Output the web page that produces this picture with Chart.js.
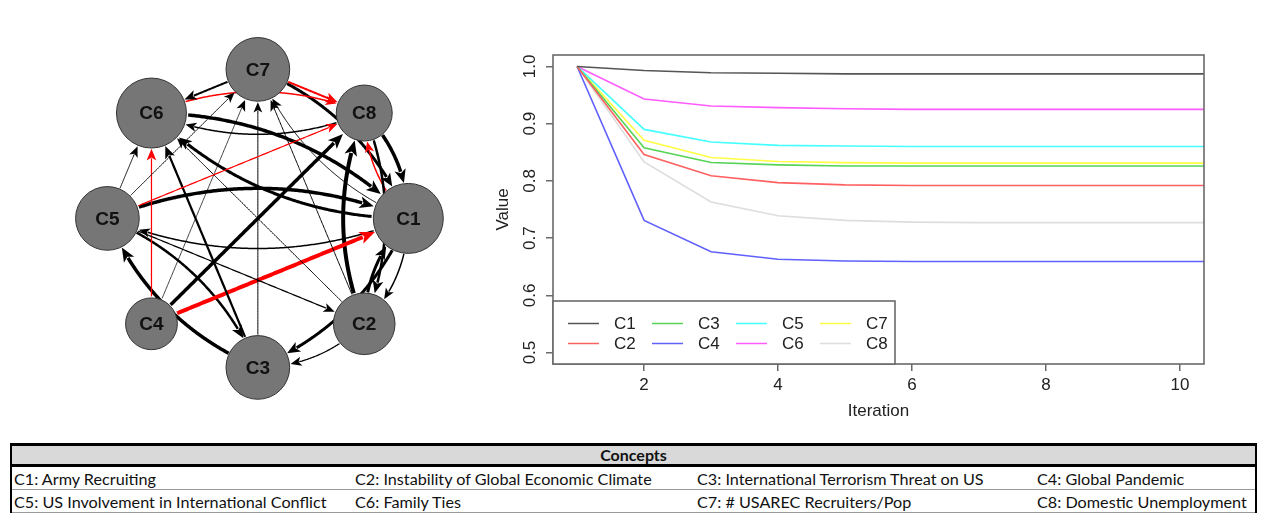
<!DOCTYPE html>
<html>
<head>
<meta charset="utf-8">
<script src="https://cdn.jsdelivr.net/npm/chart.js"></script>
<style>
  body { margin: 0; background: #fff; width: 1262px; height: 515px; overflow: hidden; position: relative; }
  #net { position: absolute; left: 0; top: 0; }
  #lines { position: absolute; left: 480px; top: 30px; }
  #concepts { position: absolute; left: 10px; top: 443px; width: 1247px; }
  #concepts table { border-collapse: collapse; width: 100%; font-family: Lato, sans-serif; font-size: 16.2px; color: #111;
    border-left: 2px solid #000; border-right: 2px solid #000; table-layout: fixed; }
  #concepts th { background: #d9d9d9; border-top: 3px solid #000; border-bottom: 3px solid #000; height: 18px;
    font-weight: bold; font-size: 16px; padding: 0; line-height: 18px; }
  #concepts td { padding: 1px 2px 0 2px; height: 21px; border-bottom: 1px solid #999; white-space: nowrap; overflow: hidden; }
</style>
</head>
<body>
<canvas id="net" width="480" height="436"></canvas>
<canvas id="lines" width="770" height="400"></canvas>
<div id="concepts"></div>
<script>
// ---- line chart data ----
const iterations = [1, 2, 3, 4, 5, 6, 7, 8, 9, 10, 11];
const seriesLabels = ['C1', 'C2', 'C3', 'C4', 'C5', 'C6', 'C7', 'C8'];
const c1 = [1.0, 0.993, 0.989, 0.988, 0.987, 0.987, 0.987, 0.987, 0.987, 0.987, 0.987];
const c2 = [1.0, 0.846, 0.809, 0.797, 0.793, 0.792, 0.792, 0.792, 0.792, 0.792, 0.792];
const c3 = [1.0, 0.858, 0.832, 0.828, 0.826, 0.826, 0.826, 0.826, 0.826, 0.826, 0.826];
const c4 = [1.0, 0.731, 0.676, 0.663, 0.660, 0.659, 0.659, 0.659, 0.659, 0.659, 0.659];
const c5 = [1.0, 0.890, 0.868, 0.862, 0.861, 0.860, 0.860, 0.860, 0.860, 0.860, 0.860];
const c6 = [1.0, 0.943, 0.931, 0.928, 0.926, 0.925, 0.925, 0.925, 0.925, 0.925, 0.925];
const c7 = [1.0, 0.871, 0.841, 0.834, 0.832, 0.831, 0.831, 0.831, 0.831, 0.831, 0.831];
const c8 = [1.0, 0.833, 0.763, 0.739, 0.731, 0.728, 0.727, 0.727, 0.727, 0.727, 0.727];
const xTicks = [2, 4, 6, 8, 10];
const yTicks = [0.5, 0.6, 0.7, 0.8, 0.9, 1.0];

// ---- network data ----
const nodeLabels = ['C1', 'C2', 'C3', 'C4', 'C5', 'C6', 'C7', 'C8'];
const nodeX = [1, 0.7071, 0, -0.7071, -1, -0.7071, 0, 0.7071];
const nodeY = [0, -0.7071, -1, -0.7071, 0, 0.7071, 1, 0.7071];
const nodeWeight = [1.0, 0.88, 0.91, 0.74, 0.91, 1.0, 0.91, 0.8];
const edgeFrom = ['C5','C1','C6','C1','C1','C7','C8','C1','C2','C1','C1','C2','C8','C2','C5','C3','C6','C8',
                  'C4','C4','C4','C4','C3','C3','C2','C2','C5','C5','C5','C5','C7','C7'];
const edgeTo   = ['C1','C5','C1','C6','C7','C1','C1','C8','C1','C2','C3','C8','C2','C3','C3','C5','C8','C6',
                  'C1','C8','C6','C7','C7','C6','C6','C7','C6','C7','C8','C2','C6','C8'];
const edgeWeight = [0.7, 0.3, 0.7, 0.6, 0.2, 0.6, 0.7, -0.3, 0.6, 0.3, 0.6, 0.8, 0.5, 0.25, 0.5, 0.7, -0.3, 0.3,
                    -0.8, 0.7, -0.25, 0.15, 0.2, 0.45, 0.2, 0.2, 0.2, 0.2, -0.25, 0.25, 0.4, -0.4];

const conceptNames = ['Army Recruiting', 'Instability of Global Economic Climate', 'International Terrorism Threat on US',
  'Global Pandemic', 'US Involvement in International Conflict', 'Family Ties', '# USAREC Recruiters/Pop', 'Domestic Unemployment'];

// edges drawn with a bend (style only)
const curvedEdges = new Set(['C5>C1','C1>C5','C6>C1','C1>C6','C1>C7','C7>C1','C8>C1','C1>C8','C2>C1','C1>C2',
  'C1>C3','C2>C8','C8>C2','C2>C3','C5>C3','C3>C5','C6>C8','C8>C6']);

const FONT = '"Liberation Sans", Arial, sans-serif';

// ---------- network (bubble chart + edge plugin) ----------
const edgePlugin = {
  id: 'edges',
  beforeDatasetsDraw(chart) {
    const ctx = chart.ctx, sx = chart.scales.x, sy = chart.scales.y;
    const pos = nodeLabels.map((l, i) => ({ x: sx.getPixelForValue(nodeX[i]), y: sy.getPixelForValue(nodeY[i]), r: 35 * nodeWeight[i] + 0.5 }));
    ctx.save();
    edgeFrom.forEach((f, k) => {
      const a = pos[nodeLabels.indexOf(f)], b = pos[nodeLabels.indexOf(edgeTo[k])];
      const w = Math.abs(edgeWeight[k]) * 5;
      const color = edgeWeight[k] < 0 ? '#ff0000' : '#000';
      const curve = curvedEdges.has(f + '>' + edgeTo[k]) ? 0.2 : 0;
      const dx = b.x - a.x, dy = b.y - a.y;
      const cx = (a.x + b.x) / 2 + dy * curve, cy = (a.y + b.y) / 2 - dx * curve;
      const bez = t => ({ x: (1 - t) * (1 - t) * a.x + 2 * (1 - t) * t * cx + t * t * b.x,
                          y: (1 - t) * (1 - t) * a.y + 2 * (1 - t) * t * cy + t * t * b.y });
      const N = 200;
      let t0 = 0, t1 = 1;
      for (let i = 0; i <= N; i++) { const p = bez(i / N); if (Math.hypot(p.x - a.x, p.y - a.y) >= a.r) { t0 = i / N; break; } }
      for (let i = N; i >= 0; i--) { const p = bez(i / N); if (Math.hypot(p.x - b.x, p.y - b.y) >= b.r) { t1 = i / N; break; } }
      const tip = bez(t1);
      const L = 9 + w * 1.3, H = L * 0.42;
      let tb = t1;
      for (let i = Math.round(t1 * N); i >= 0; i--) { const p = bez(i / N); if (Math.hypot(p.x - tip.x, p.y - tip.y) >= L) { tb = i / N; break; } }
      const base = bez(tb);
      const ux = (tip.x - base.x) / L, uy = (tip.y - base.y) / L;
      ctx.strokeStyle = color; ctx.fillStyle = color; ctx.lineWidth = w;
      ctx.beginPath();
      const p0 = bez(t0); ctx.moveTo(p0.x, p0.y);
      for (let t = t0; t <= tb; t += 1 / N) { const p = bez(t); ctx.lineTo(p.x, p.y); }
      ctx.lineTo(base.x + ux * 2, base.y + uy * 2);
      ctx.stroke();
      ctx.beginPath();
      ctx.moveTo(tip.x, tip.y);
      ctx.lineTo(base.x - uy * H, base.y + ux * H);
      ctx.lineTo(base.x + ux * L * 0.25, base.y + uy * L * 0.25);
      ctx.lineTo(base.x + uy * H, base.y - ux * H);
      ctx.closePath();
      ctx.fill();
    });
    ctx.restore();
  },
  afterDatasetsDraw(chart) {
    const ctx = chart.ctx, sx = chart.scales.x, sy = chart.scales.y;
    ctx.save();
    ctx.font = 'bold 19px ' + FONT;
    ctx.fillStyle = '#111';
    ctx.textAlign = 'center';
    ctx.textBaseline = 'middle';
    nodeLabels.forEach((l, i) => ctx.fillText(l, sx.getPixelForValue(nodeX[i]), sy.getPixelForValue(nodeY[i]) + 1));
    ctx.restore();
  }
};

new Chart(document.getElementById('net'), {
  type: 'bubble',
  data: {
    datasets: [{
      data: nodeLabels.map((l, i) => ({ x: nodeX[i], y: nodeY[i], r: 35 * nodeWeight[i] })),
      backgroundColor: '#767676',
      borderColor: '#333',
      borderWidth: 1,
      clip: false
    }]
  },
  options: {
    responsive: false,
    animation: false,
    events: [],
    layout: { padding: 0 },
    plugins: { legend: { display: false }, tooltip: { enabled: false } },
    scales: {
      x: { type: 'linear', display: false, min: -261 / 177, max: (480 - 261) / 177 },
      y: { type: 'linear', display: false, min: -(436 - 218.5) / 178.5, max: 218.5 / 178.5 }
    }
  },
  plugins: [edgePlugin]
});

// ---------- line chart ----------
const seriesValues = [c1, c2, c3, c4, c5, c6, c7, c8];
const seriesColors = ['#555555', '#ff6060', '#55d455', '#6060ff', '#44ffff', '#ff5cff', '#ffff44', '#dddddd'];

const boxPlugin = {
  id: 'rbox',
  afterDraw(chart) {
    const ctx = chart.ctx, a = chart.chartArea, sy = chart.scales.y;
    ctx.save();
    ctx.strokeStyle = '#6a6a6a';
    ctx.lineWidth = 1.6;
    ctx.strokeRect(a.left, a.top, a.right - a.left, a.bottom - a.top);
    // rotated y tick labels (R style)
    ctx.font = '17px ' + FONT;
    ctx.fillStyle = '#222';
    ctx.textAlign = 'center';
    ctx.textBaseline = 'middle';
    yTicks.forEach(v => {
      ctx.save();
      ctx.translate(a.left - 23, sy.getPixelForValue(v));
      ctx.rotate(-Math.PI / 2);
      ctx.fillText(v.toFixed(1), 0, 0);
      ctx.restore();
    });
    // legend inside plot, bottom-left, filled column-wise
    const lx = a.left, lw = 342, lh = 63, ly = a.bottom - lh;
    ctx.fillStyle = '#fff';
    ctx.fillRect(lx, ly, lw, lh);
    ctx.strokeRect(lx, ly, lw, lh);
    ctx.textAlign = 'left';
    chart.data.datasets.forEach((ds, i) => {
      const col = Math.floor(i / 2), row = i % 2;
      const x = lx + 15 + col * 84, y = ly + 22.5 + row * 20;
      ctx.strokeStyle = ds.borderColor;
      ctx.lineWidth = 1.5;
      ctx.beginPath(); ctx.moveTo(x, y); ctx.lineTo(x + 31, y); ctx.stroke();
      ctx.fillStyle = '#222';
      ctx.fillText(ds.label, x + 46, y + 1);
    });
    ctx.restore();
  }
};

new Chart(document.getElementById('lines'), {
  type: 'line',
  data: {
    datasets: seriesLabels.map((l, i) => ({
      label: l,
      data: iterations.map((it, j) => ({ x: it, y: seriesValues[i][j] })),
      borderColor: seriesColors[i],
      borderWidth: 1.6,
      pointRadius: 0,
      fill: false,
      tension: 0
    }))
  },
  options: {
    responsive: false,
    animation: false,
    events: [],
    layout: { padding: { left: 0, top: 25, right: 46, bottom: 0 } },
    plugins: { legend: { display: false }, tooltip: { enabled: false } },
    scales: {
      x: {
        type: 'linear', min: 0.64, max: 10.36,
        afterBuildTicks: s => { s.ticks = xTicks.map(v => ({ value: v })); },
        afterFit: s => { s.height = 66; },
        grid: { drawOnChartArea: false, drawTicks: true, tickLength: 7, color: '#6a6a6a', lineWidth: 1.5 },
        border: { display: false },
        ticks: { font: { family: FONT, size: 17 }, color: '#222', padding: 4, maxRotation: 0 },
        title: { display: true, text: 'Iteration', font: { family: FONT, size: 17 }, color: '#222', padding: { top: 0, bottom: 8 } }
      },
      y: {
        type: 'linear', min: 0.48, max: 1.02,
        afterBuildTicks: s => { s.ticks = yTicks.map(v => ({ value: v })); },
        afterFit: s => { s.width = 73; },
        grid: { drawOnChartArea: false, drawTicks: true, tickLength: 7, color: '#6a6a6a', lineWidth: 1.5 },
        border: { display: false },
        ticks: { display: false },
        title: { display: true, text: 'Value', font: { family: FONT, size: 17 }, color: '#222', padding: { top: 13, bottom: 0 } }
      }
    }
  },
  plugins: [boxPlugin]
});

// ---------- concepts table ----------
let html = '<table><colgroup><col style="width:342px"><col style="width:342px"><col style="width:340px"><col></colgroup>';
html += '<tr><th colspan="4">Concepts</th></tr>';
for (let r = 0; r < 2; r++) {
  html += '<tr>';
  for (let c = 0; c < 4; c++) {
    const i = r * 4 + c;
    html += '<td>' + nodeLabels[i] + ': ' + conceptNames[i] + '</td>';
  }
  html += '</tr>';
}
html += '</table>';
document.getElementById('concepts').innerHTML = html;
</script>
</body>
</html>
